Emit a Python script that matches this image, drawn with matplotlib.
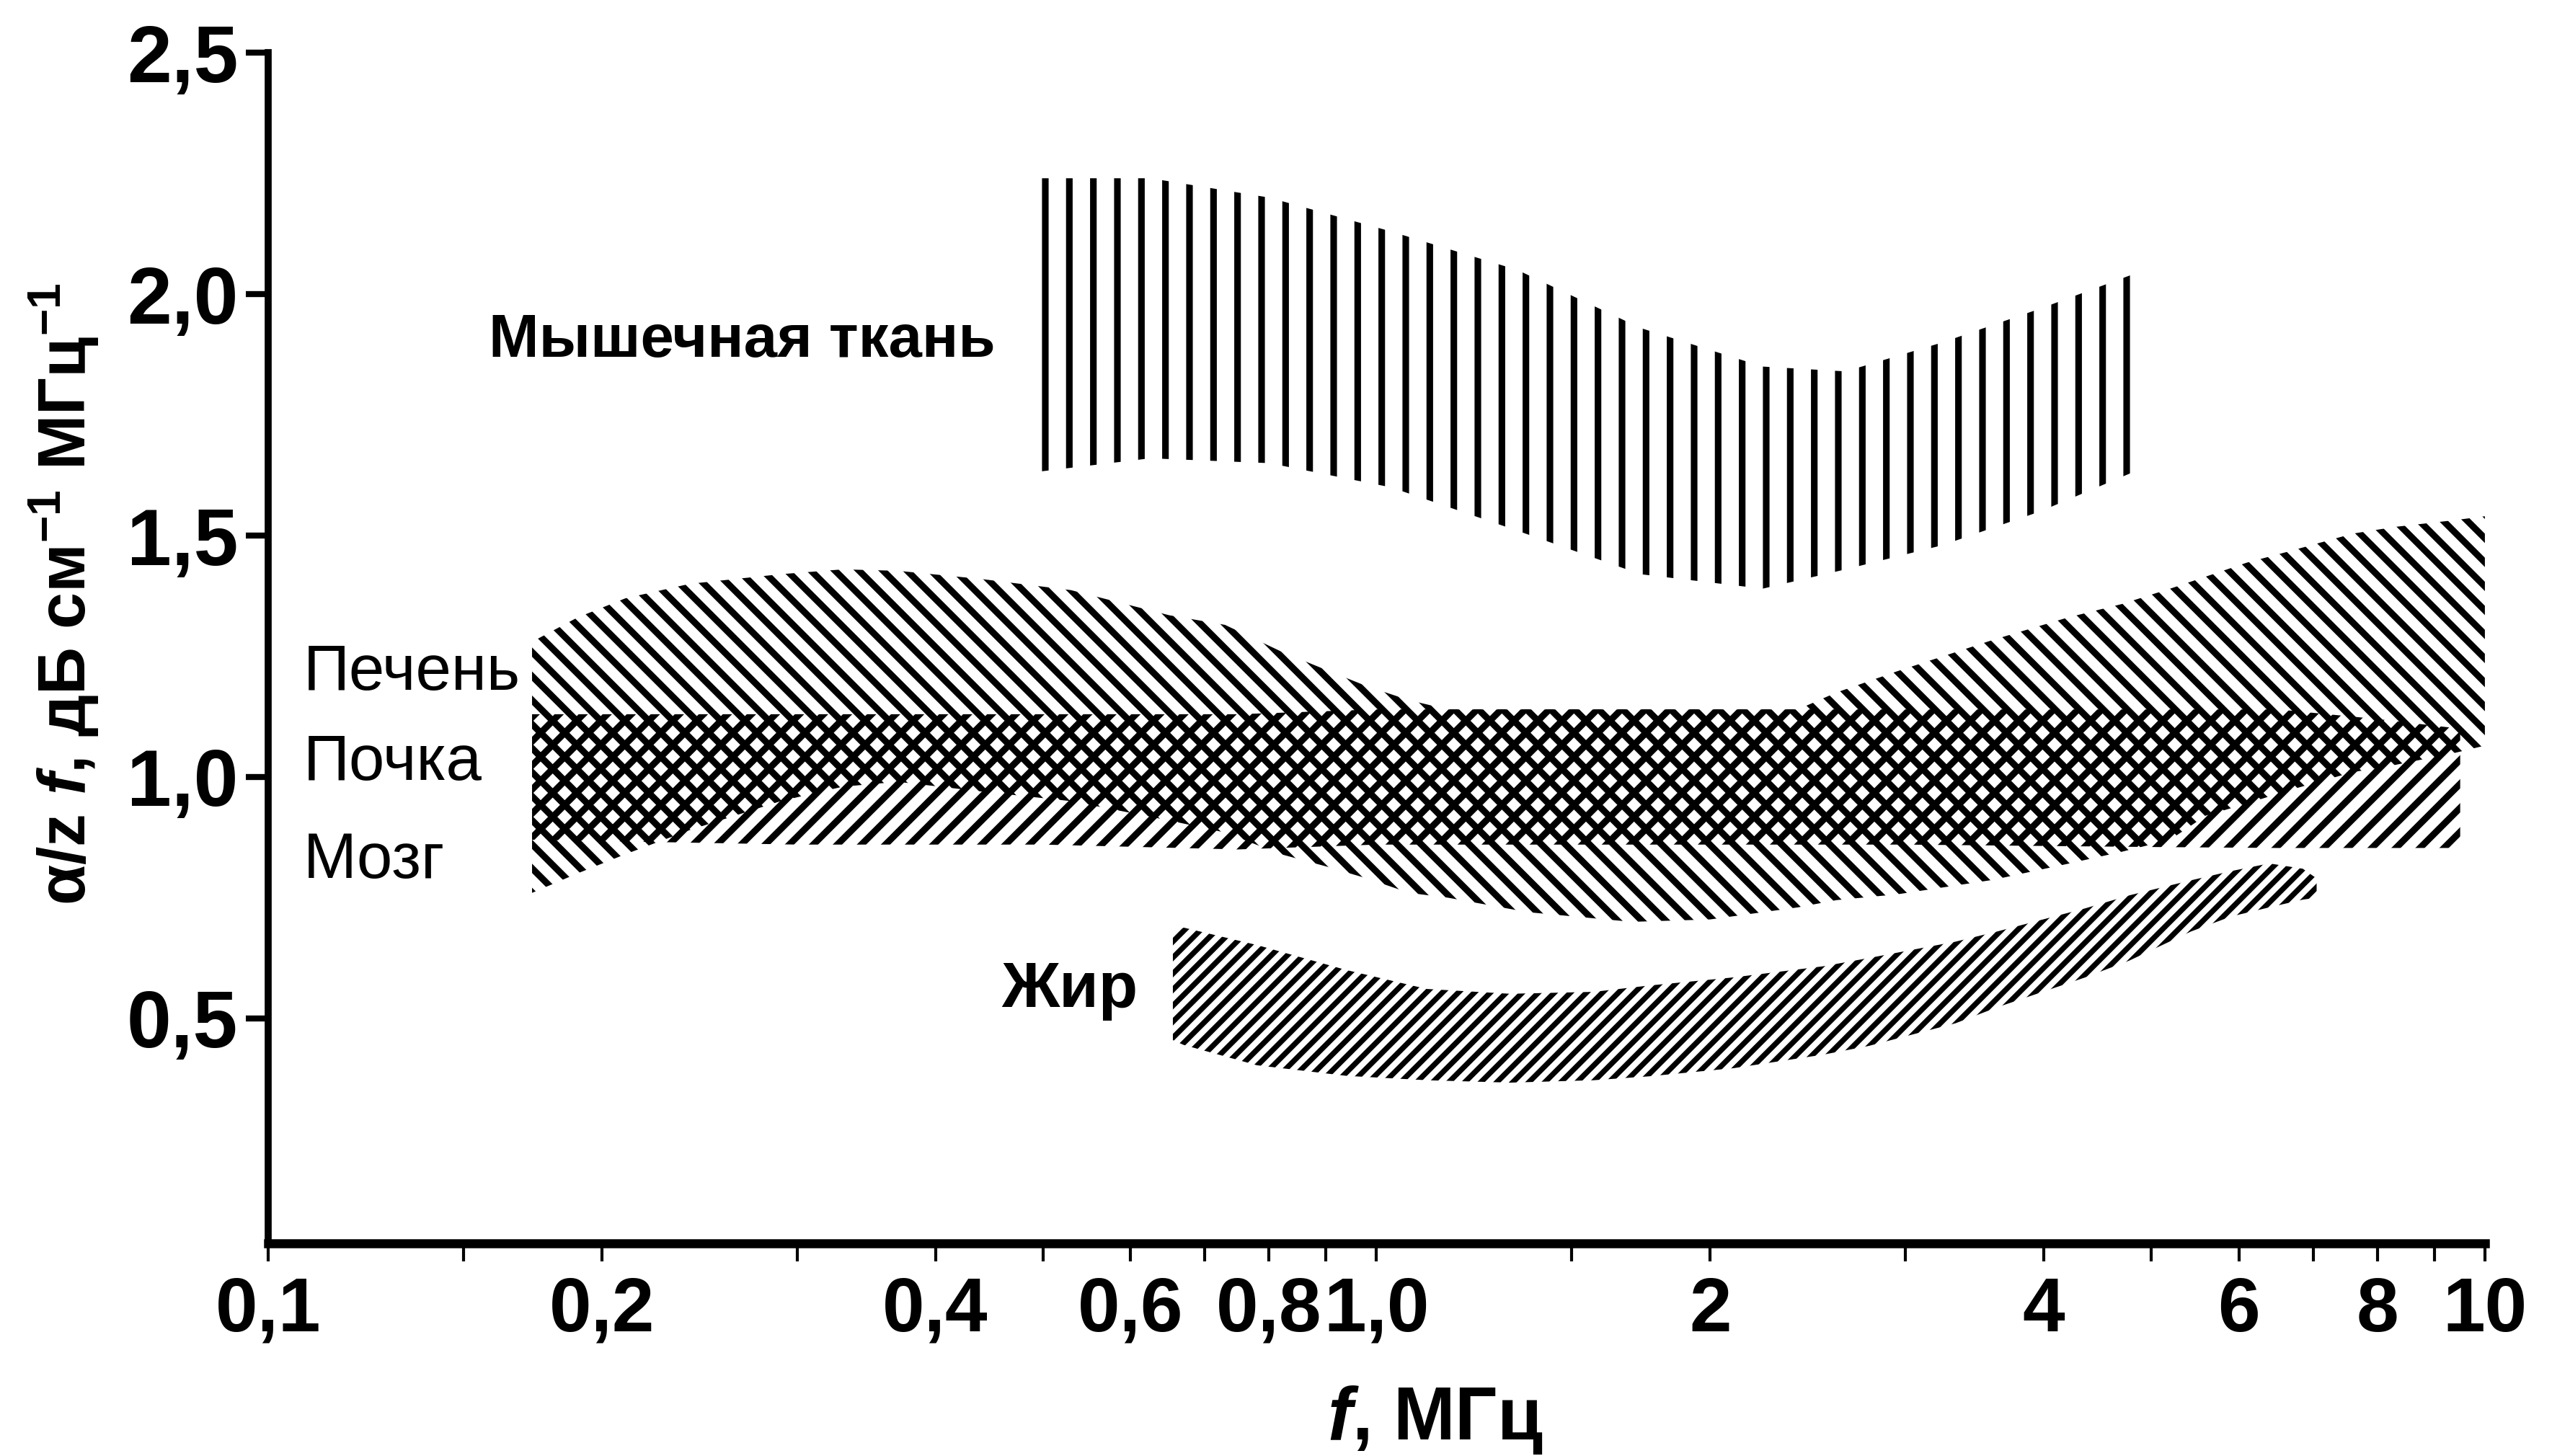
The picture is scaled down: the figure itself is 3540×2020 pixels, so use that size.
import matplotlib
matplotlib.use('Agg')
import matplotlib.pyplot as plt

# шрифты и толщина штриховки
plt.rcParams['font.family'] = ['Liberation Sans', 'DejaVu Sans']
plt.rcParams['font.weight'] = 'bold'
plt.rcParams['mathtext.fontset'] = 'custom'
plt.rcParams['mathtext.rm'] = 'Liberation Sans:bold'
plt.rcParams['mathtext.it'] = 'Liberation Sans:italic:bold'
plt.rcParams['mathtext.bf'] = 'Liberation Sans:bold'
plt.rcParams['hatch.linewidth'] = 3.3
plt.rcParams['hatch.color'] = 'black'

# Мышечная ткань
f_muscle = [0.486, 0.625, 0.80, 1.03, 1.34, 1.73, 2.23, 2.65, 3.24, 3.97, 4.8]
muscle_top = [2.24, 2.24, 2.20, 2.13, 2.05, 1.93, 1.85, 1.84, 1.90, 1.97, 2.04]
muscle_bot = [1.63, 1.66, 1.65, 1.60, 1.51, 1.42, 1.39, 1.43, 1.48, 1.55, 1.63]

# Печень
f_liver = [0.173, 0.19, 0.21, 0.24, 0.29, 0.33, 0.37, 0.44, 0.53, 0.65, 0.73,
           0.82, 0.90, 0.98, 1.07, 1.16, 1.37, 1.7, 2.0, 2.4, 2.6, 2.95, 3.6,
           4.2, 4.7, 5.2, 5.6, 6.1, 6.6, 7.6, 8.3, 9.4, 10.0]
liver_top = [1.28, 1.33, 1.37, 1.40, 1.42, 1.43, 1.427, 1.41, 1.387, 1.335, 1.315,
             1.26, 1.222, 1.188, 1.159, 1.14, 1.14, 1.14, 1.14, 1.14, 1.175, 1.219, 1.284,
             1.33, 1.358, 1.39, 1.415, 1.444, 1.465, 1.504, 1.518, 1.532, 1.54]
liver_bot = [0.76, 0.80, 0.84, 0.89, 0.95, 0.98, 0.99, 0.97, 0.95, 0.91, 0.885,
             0.84, 0.815, 0.79, 0.76, 0.75, 0.72, 0.70, 0.705, 0.73, 0.745, 0.757, 0.787,
             0.82, 0.845, 0.87, 0.92, 0.945, 0.97, 1.01, 1.025, 1.05, 1.065]

# Мозг (пересечение с печенью даёт сетку - почка)
f_brain = [0.173, 0.3, 0.5, 0.75, 1.0, 2.0, 3.0, 5.0, 6.5, 8.0, 9.5]
brain_top = [1.13, 1.13, 1.13, 1.13, 1.14, 1.14, 1.14, 1.14, 1.14, 1.12, 1.10]
brain_bot = [0.87, 0.86, 0.86, 0.85, 0.86, 0.86, 0.86, 0.855, 0.853, 0.853, 0.853]

# Жир
f_fat = [0.655, 0.67, 0.78, 0.94, 1.11, 1.32, 1.57, 1.76, 2.1, 2.53, 2.78,
         3.33, 3.63, 4.36, 4.78, 5.43, 5.9, 6.39, 6.85, 7.05]
fat_top = [0.68, 0.688, 0.652, 0.600, 0.561, 0.551, 0.555, 0.568, 0.585, 0.608, 0.625,
           0.659, 0.68, 0.728, 0.755, 0.786, 0.805, 0.821, 0.81, 0.79]
fat_bot = [0.455, 0.445, 0.403, 0.381, 0.372, 0.367, 0.372, 0.38, 0.397, 0.425, 0.443,
           0.49, 0.523, 0.585, 0.62, 0.68, 0.711, 0.73, 0.746, 0.75]

# оси
x_major = [0.1, 0.2, 0.4, 0.6, 0.8, 1.0, 2, 4, 6, 8, 10]
x_major_labels = ['0,1', '0,2', '0,4', '0,6', '0,8', '1,0', '2', '4', '6', '8', '10']
x_minor = [0.15, 0.3, 0.5, 0.7, 0.9, 1.5, 3, 5, 7, 9]
y_ticks = [0.5, 1.0, 1.5, 2.0, 2.5]
y_labels = ['0,5', '1,0', '1,5', '2,0', '2,5']

fig = plt.figure(figsize=(17.7, 10.1), dpi=200)
ax = fig.add_axes([0.1051, 0.1460, 0.8686, 0.8178])
ax.set_xscale('log')
ax.set_xlim(0.1, 10)
ax.set_ylim(0.034, 2.5)


def band(f, top, bot, hatch, hlw=None):
    coll = ax.fill_between(f, bot, top, facecolor='none', edgecolor='black',
                           linewidth=0, hatch=hatch)
    if hlw is not None and hasattr(coll, 'set_hatch_linewidth'):
        coll.set_hatch_linewidth(hlw)
    return coll


band(f_muscle, muscle_top, muscle_bot, '|')
band(f_liver, liver_top, liver_bot, '\\\\')
band(f_brain, brain_top, brain_bot, '//')
band(f_fat, fat_top, fat_bot, '///', hlw=2.7)

# подписи тканей
ax.text(0.453, 1.870, 'Мышечная ткань', ha='right', va='baseline', fontsize=30)
ax.text(0.1075, 1.181, 'Печень', ha='left', va='baseline', fontsize=32,
        fontweight='normal')
ax.text(0.1075, 0.994, 'Почка', ha='left', va='baseline', fontsize=32,
        fontweight='normal')
ax.text(0.1075, 0.791, 'Мозг', ha='left', va='baseline', fontsize=32,
        fontweight='normal')
ax.text(0.459, 0.524, 'Жир', ha='left', va='baseline', fontsize=32)

ax.set_xticks(x_major, x_major_labels)
ax.set_xticks(x_minor, minor=True)
ax.xaxis.set_minor_formatter(matplotlib.ticker.NullFormatter())
ax.set_yticks(y_ticks, y_labels)

ax.tick_params(axis='x', which='both', direction='out', length=9, width=1.5,
               pad=7, labelsize=38)
ax.tick_params(axis='y', direction='out', length=11, width=3, pad=4, labelsize=40)

ax.spines['top'].set_visible(False)
ax.spines['right'].set_visible(False)
ax.spines['bottom'].set_linewidth(4.5)
ax.spines['left'].set_linewidth(3.5)

fig.text(0.5624, 0.0114, '$f$, МГц', ha='center', va='baseline', fontsize=37)
fig.text(0.025, 0.592, 'α/z $f$, дБ см$^{-1}$ МГц$^{-1}$', rotation=90,
         ha='center', va='center', fontsize=33)

fig.savefig('out.png', dpi=200)
